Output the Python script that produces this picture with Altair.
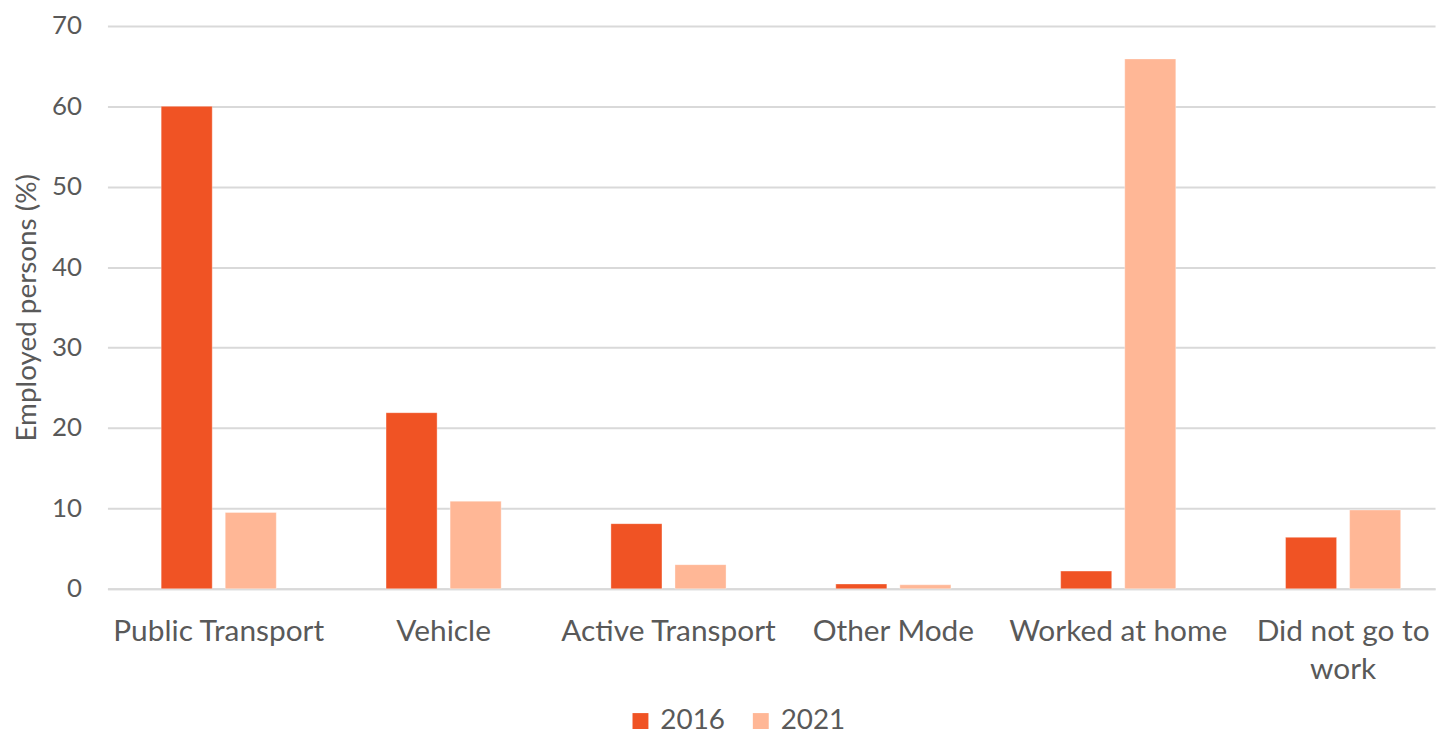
import altair as alt
import pandas as pd

categories = ["Public Transport", "Vehicle", "Active Transport", "Other Mode", "Worked at home", "Did not go to work"]
values_2016 = [60.0, 21.9, 8.1, 0.6, 2.2, 6.4]
values_2021 = [9.5, 10.9, 3.0, 0.5, 65.9, 9.8]
years = ["2016", "2021"]
colors = ["#F05324", "#FFB796"]

rows = []
for c, v1, v2 in zip(categories, values_2016, values_2021):
    rows.append({"mode": c, "year": years[0], "value": v1})
    rows.append({"mode": c, "year": years[1], "value": v2})
df = pd.DataFrame(rows)

FONT = "Lato"
TXT = "#595959"

chart = alt.Chart(df).mark_bar(stroke="#FFFFFF", strokeOpacity=0.35, strokeWidth=1).encode(
    x=alt.X("mode:N", sort=categories, title=None,
            scale=alt.Scale(paddingInner=0.488, paddingOuter=0.1958, align=0.61),
            axis=alt.Axis(labelAngle=0, labelFontSize=30, labelColor=TXT, labelFont=FONT,
                          labelPadding=28, labelLineHeight=38, ticks=False, labelLimit=0,
                          domain=True, domainColor="#D9D9D9", domainWidth=2,
                          labelExpr="datum.label == 'Did not go to work' ? ['Did not go to', 'work'] : datum.label")),
    xOffset=alt.XOffset("year:N", sort=years, scale=alt.Scale(paddingInner=0.203, paddingOuter=0)),
    y=alt.Y("value:Q", title="Employed persons (%)",
            scale=alt.Scale(domain=[0, 70], nice=False),
            axis=alt.Axis(values=[0, 10, 20, 30, 40, 50, 60, 70], labelFontSize=26, labelColor=TXT,
                          labelFont=FONT, labelPadding=26, ticks=False, domain=False,
                          grid=True, gridColor="#D9D9D9", gridWidth=2,
                          titleFontSize=28, titleColor=TXT, titleFont=FONT, titleFontWeight="normal",
                          titlePadding=10)),
    color=alt.Color("year:N", sort=years, scale=alt.Scale(domain=years, range=colors),
                    legend=alt.Legend(title=None, orient="none", direction="horizontal",
                                      legendX=522, legendY=685,
                                      symbolType="square", symbolSize=256, symbolStrokeWidth=0,
                                      labelFontSize=28, labelColor=TXT, labelFont=FONT,
                                      columnPadding=22, labelOffset=6)),
).properties(
    width=1335, height=566,
    autosize=alt.AutoSizeParams(type="none"),
    padding={"left": 100, "top": 16, "right": 4, "bottom": 145},
).configure_view(stroke=None)

chart.save("out.html", embed_options={"renderer": "svg", "actions": False})
